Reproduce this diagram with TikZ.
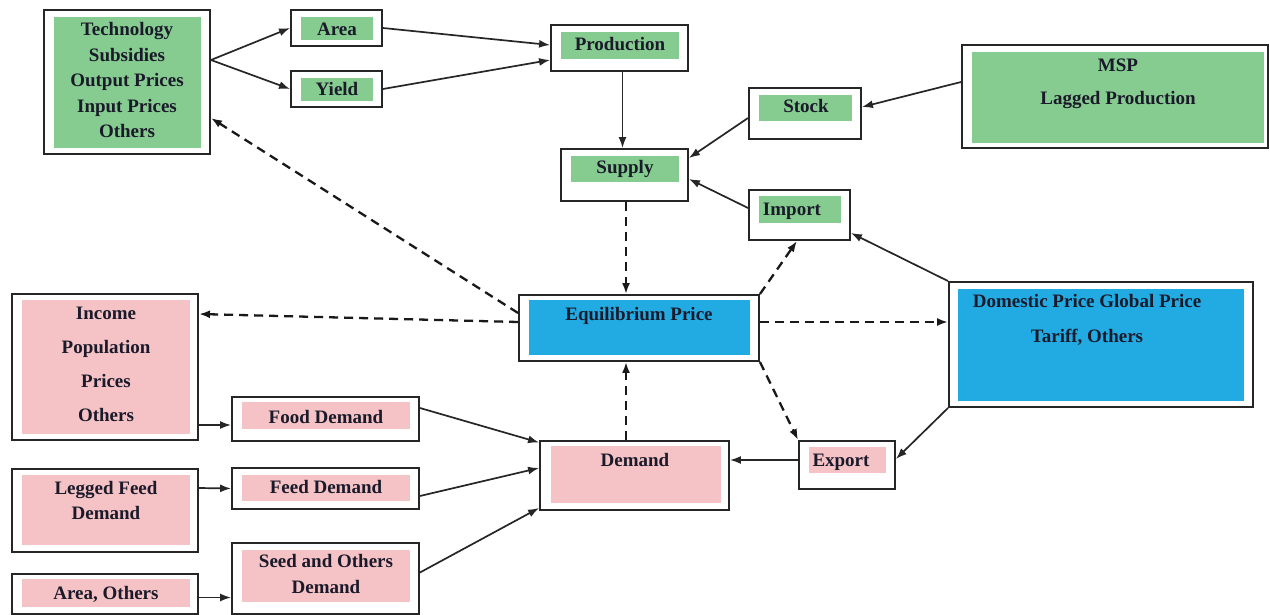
\documentclass[tikz,border=0pt]{standalone}
\usepackage{fontspec}
\setmainfont{Liberation Serif}
\usetikzlibrary{arrows.meta,fit}
\definecolor{gfill}{HTML}{86CB8F}
\definecolor{pfill}{HTML}{F5C3C5}
\definecolor{bfill}{HTML}{22ABE3}
\definecolor{ink}{HTML}{1A1A2A}
\tikzset{
 box/.style={draw=black!85, line width=1.9pt, fill=white, inner sep=0pt},
 txt/.style={anchor=base, inner sep=0pt, font=\fontsize{19}{19}\selectfont\bfseries, text=ink},
 arr/.style={draw=black!85, line width=1.7pt, -{Latex[length=11pt,width=8pt]}},
 darr/.style={draw=black!90, line width=2.3pt, dash pattern=on 9pt off 6pt, -{Latex[length=11pt,width=8pt]}},
}
\begin{document}
\begin{tikzpicture}[x=1pt,y=-1pt]
\useasboundingbox[fill=white] (0,0) rectangle (1270,615);

% ---------- boxes ----------
\node[box, fit={(44,10)(210,154)}] (tech) {};
\fill[gfill] (54,17) rectangle (201,148);
\node[txt] (t1) at (127,36) {Technology};
\node[txt] (t2) at (127,62) {Subsidies};
\node[txt] (t3) at (127,87) {Output Prices};
\node[txt] (t4) at (127,113) {Input Prices};
\node[txt] (t5) at (127,138) {Others};

\node[box, fit={(291,10)(382,46)}] (area) {};
\fill[gfill] (301,17) rectangle (373,40);
\node[txt] (areat) at (337,36) {Area};

\node[box, fit={(291,71)(382,107)}] (yield) {};
\fill[gfill] (301,78) rectangle (373,101);
\node[txt] (yieldt) at (337,96) {Yield};

\node[box, fit={(551,25)(688,71)}] (prod) {};
\fill[gfill] (561,32) rectangle (679,59);
\node[txt] (prodt) at (620,51) {Production};

\node[box, fit={(561,149)(688,201)}] (supply) {};
\fill[gfill] (571,156) rectangle (679,182);
\node[txt] (supplyt) at (625,174) {Supply};

\node[box, fit={(749,88)(861,139)}] (stock) {};
\fill[gfill] (759,95) rectangle (852,121);
\node[txt] (stockt) at (806,113) {Stock};

\node[box, fit={(749,190)(850,240)}] (import) {};
\fill[gfill] (759,196) rectangle (841,223);
\node[txt] (importt) at (792,215) {Import};

\node[box, fit={(962,45)(1268,148)}] (msp) {};
\fill[gfill] (972,52) rectangle (1264,143);
\node[txt] (mspt1) at (1118,72) {MSP};
\node[txt] (mspt2) at (1118,105) {Lagged Production};

\node[box, fit={(519,295)(759,361)}] (eq) {};
\fill[bfill] (529,300) rectangle (750,355);
\node[txt] (eqt) at (639,320) {Equilibrium Price};

\node[box, fit={(949,282)(1253,407)}] (dom) {};
\fill[bfill] (958,289) rectangle (1244,401);
\node[txt] (domt1) at (1087,307) {Domestic Price Global Price};
\node[txt] (domt2) at (1087,342) {Tariff, Others};

\node[box, fit={(12,294)(198,440)}] (income) {};
\fill[pfill] (22,300) rectangle (190,434);
\node[txt] (inc1) at (106,319) {Income};
\node[txt] (inc2) at (106,353) {Population};
\node[txt] (inc3) at (106,387) {Prices};
\node[txt] (inc4) at (106,421) {Others};

\node[box, fit={(232,397)(419,441)}] (food) {};
\fill[pfill] (242,402) rectangle (410,429);
\node[txt] (foodt) at (326,423) {Food Demand};

\node[box, fit={(12,469)(198,552)}] (legged) {};
\fill[pfill] (22,475) rectangle (190,545);
\node[txt] (leg1) at (106,494) {Legged Feed};
\node[txt] (leg2) at (106,519) {Demand};

\node[box, fit={(232,468)(419,509)}] (feed) {};
\fill[pfill] (242,475) rectangle (410,501);
\node[txt] (feedt) at (326,493) {Feed Demand};

\node[box, fit={(232,543)(419,614)}] (seed) {};
\fill[pfill] (242,550) rectangle (410,602);
\node[txt] (seed1) at (326,567) {Seed and Others};
\node[txt] (seed2) at (326,593) {Demand};

\node[box, fit={(12,574)(198,614)}] (areao) {};
\fill[pfill] (22,579) rectangle (190,607);
\node[txt] (areaot) at (106,599) {Area, Others};

\node[box, fit={(540,441)(729,510)}] (demand) {};
\fill[pfill] (551,446) rectangle (721,503);
\node[txt] (demandt) at (635,466) {Demand};

\node[box, fit={(799,441)(895,489)}] (export) {};
\fill[pfill] (809,447) rectangle (886,473);
\node[txt] (exportt) at (841,466) {Export};

% ---------- solid arrows ----------
\draw[arr] ([yshift=22pt]tech.east) -- (area.west);
\draw[arr] ([yshift=22pt]tech.east) -- (yield.west);
\draw[arr] (area.east) -- ([yshift=3pt]prod.west);
\draw[arr] (yield.east) -- ([yshift=-12pt]prod.west);
\draw[arr] ([xshift=3pt]prod.south) -- ([xshift=3pt]prod.south |- supply.north);
\draw[arr] ([yshift=-4.5pt]stock.west) -- ([yshift=17pt]supply.east);
\draw[arr] ([yshift=7pt]import.west) -- ([yshift=-4pt]supply.east);
\draw[arr] ([yshift=14.5pt]msp.west) -- ([yshift=6.5pt]stock.east);
\draw[arr] (dom.north west) -- ([yshift=-18pt]import.east);
\draw[arr] (dom.south west) -- ([yshift=6pt]export.east);
\draw[arr] ([yshift=5pt]export.west) -- ([yshift=15.5pt]demand.east);
\draw[arr] ([yshift=-58pt]income.east) -- ([yshift=-6pt]food.west);
\draw[arr] ([yshift=22.5pt]legged.east) -- (feed.west);
\draw[arr] ([yshift=-3.5pt]areao.east) -- ([yshift=-19pt]seed.west);
\draw[arr] ([yshift=11pt]food.east) -- ([yshift=33pt]demand.west);
\draw[arr] ([yshift=-7.5pt]feed.east) -- ([yshift=7.5pt]demand.west);
\draw[arr] ([yshift=6pt]seed.east) -- ([yshift=-32.5pt]demand.west);

% ---------- dashed arrows ----------
\draw[darr] ([xshift=1.5pt]supply.south) -- ([xshift=1.5pt]supply.south |- eq.north);
\draw[darr] ([xshift=-8.5pt]demand.north) -- ([xshift=-8.5pt]demand.north |- eq.south);
\draw[darr] ([yshift=15pt]eq.west) -- ([yshift=-36pt]tech.east);
\draw[darr] ([yshift=6pt]eq.west) -- ([yshift=53pt]income.east);
\draw[darr] ([yshift=6pt]eq.east) -- ([yshift=22.5pt]dom.west);
\draw[darr] (eq.north east) -- ([xshift=-2.5pt]import.south);
\draw[darr] (eq.south east) -- (export.north west);
\end{tikzpicture}
\end{document}
